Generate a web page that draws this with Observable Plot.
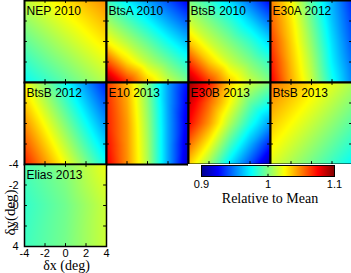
<!DOCTYPE html>
<html><head><meta charset="utf-8">
<script src="https://cdn.jsdelivr.net/npm/d3@7"></script>
<script src="https://cdn.jsdelivr.net/npm/@observablehq/plot@0.6"></script>
<style>
html,body{margin:0;padding:0;background:#fff;}
#chart{position:relative;width:351px;height:273px;overflow:hidden;background:#fff;}
#chart > div{position:absolute;overflow:visible;}
</style></head><body><div id="chart"></div>
<script>
// values; rows run from y = -4 (top) to y = 4 (bottom),
// columns from x = -4 (left) to x = 4 (right), on a 3x3 or 5x5 grid
const grid3 = [-4, 0, 4];
const grid5 = [-4, -2, 0, 2, 4];
const panelNames = ["NEP 2010","BtsA 2010","BtsB 2010","E30A 2012","BtsB 2012","E10 2013","E30B 2013","BtsB 2013","Elias 2013"];
const nep2010 = [
  [1.013, 1.031, 1.048],
  [0.994, 1.012, 1.030],
  [0.976, 0.993, 1.011]];
const btsA2010 = [
  [0.988, 0.972, 0.956, 0.940, 0.923],
  [1.007, 0.991, 0.975, 0.958, 0.942],
  [1.026, 1.010, 0.994, 0.977, 0.961],
  [1.061, 1.032, 1.012, 0.996, 0.980],
  [1.097, 1.067, 1.037, 1.015, 0.999]];
const btsB2010 = [
  [1.000, 0.985, 0.967, 0.946, 0.925],
  [1.015, 1.000, 0.985, 0.967, 0.946],
  [1.036, 1.015, 1.000, 0.985, 0.967],
  [1.065, 1.036, 1.015, 1.000, 0.985],
  [1.093, 1.065, 1.036, 1.015, 1.000]];
const e30A2012 = [
  [1.050, 1.026, 0.991, 0.960, 0.932],
  [1.057, 1.030, 0.997, 0.964, 0.937],
  [1.064, 1.034, 1.003, 0.969, 0.941],
  [1.071, 1.038, 1.009, 0.973, 0.946],
  [1.078, 1.042, 1.014, 0.979, 0.950]];
const btsB2012 = [
  [1.023, 0.977, 0.930],
  [1.047, 1.000, 0.953],
  [1.070, 1.023, 0.977]];
const e10_2013 = [
  [1.065, 1.039, 1.000, 0.957, 0.925],
  [1.068, 1.042, 1.003, 0.957, 0.921],
  [1.070, 1.045, 1.006, 0.958, 0.918],
  [1.074, 1.046, 1.008, 0.958, 0.914],
  [1.078, 1.047, 1.009, 0.958, 0.910]];
const e30B2013 = [
  [1.095, 1.072, 1.035, 1.015, 1.000],
  [1.085, 1.055, 1.025, 0.995, 0.978],
  [1.075, 1.045, 1.010, 0.980, 0.955],
  [1.055, 1.025, 0.990, 0.960, 0.930],
  [1.035, 1.005, 0.970, 0.940, 0.905]];
const btsB2013 = [
  [1.053, 1.031, 1.009],
  [1.036, 1.014, 0.992],
  [1.019, 0.997, 0.975]];
const elias2013 = [
  [0.990, 1.002, 1.022],
  [0.985, 0.997, 1.015],
  [0.987, 0.998, 1.015]];
const panelValues = [nep2010, btsA2010, btsB2010, e30A2012, btsB2012, e10_2013, e30B2013, btsB2013, elias2013];
const axisTicks = [-4, -2, 0, 2, 4];
const colorDomain = [0.9, 1.1];
const colorTicks = [0.9, 1, 1.1];
const jetColors = ["#00008f","#0000ff","#0080ff","#00ffff","#80ff80","#ffff00","#ff8000","#ff0000","#800000"];
const colorLabel = "Relative to Mean";
const xLabel = "δx (deg)";
const yLabel = "δy(deg)";

const sans = "'Liberation Sans', Arial, Helvetica, sans-serif";
const serif = "'Liberation Serif', 'Times New Roman', serif";
const jet = d3.piecewise(d3.interpolateRgb, jetColors);
const colorOpts = {type: "linear", domain: colorDomain, interpolate: jet, clamp: true};

const chart = document.getElementById("chart");
function place(node, left, top, w, h) {
  const d = document.createElement("div");
  d.style.left = left + "px"; d.style.top = top + "px";
  d.style.width = w + "px"; d.style.height = h + "px";
  d.appendChild(node); chart.appendChild(d);
}

const P = 82;
panelNames.forEach((name, i) => {
  const col = i % 4, row = Math.floor(i / 4);
  const vals = panelValues[i];
  const g = vals.length === 5 ? grid5 : grid3;
  const pts = [];
  g.forEach((y, r) => g.forEach((x, c) => pts.push({x, y, v: vals[r][c]})));
  const isAxis = i === 8;
  const ml = isAxis ? 24 : 0, mb = isAxis ? 27 : 0, mt = isAxis ? 6 : 0, mr = isAxis ? 6 : 0;
  const marks = [
    Plot.raster(pts, {x: "x", y: "y", fill: "v", interpolate: "barycentric", x1: -4, x2: 4, y1: -4, y2: 4}),
    Plot.ruleX(axisTicks, {y1: 4, y2: 3.72, stroke: "black"}),
    Plot.ruleX(axisTicks, {y1: -4, y2: -3.72, stroke: "black"}),
    Plot.ruleY(axisTicks, {x1: -4, x2: -3.72, stroke: "black"}),
    Plot.ruleY(axisTicks, {x1: 4, x2: 3.72, stroke: "black"}),
    Plot.frame({stroke: "black", strokeWidth: isAxis ? 1.5 : 2}),
    Plot.text([name], {frameAnchor: "top-left", dx: 2, dy: 6, fontSize: 12, fontFamily: sans, fill: "black"})
  ];
  if (isAxis) {
    marks.push(Plot.text([xLabel], {frameAnchor: "bottom", lineAnchor: "bottom", dy: 23.5, dx: 1, fontSize: 14, fontFamily: serif, fill: "black"}));
    marks.push(Plot.text([yLabel], {frameAnchor: "middle", textAnchor: "middle", lineAnchor: "middle", rotate: -90, dx: -55, dy: 7, fontSize: 15, fontFamily: serif, fill: "black"}));
  }
  const W = P + ml + mr, H = P + mb + mt;
  const plot = Plot.plot({
    width: W, height: H,
    marginTop: mt, marginRight: mr, marginLeft: ml, marginBottom: mb,
    style: {fontFamily: sans, fontSize: "11px", color: "black", background: isAxis ? "transparent" : "white", overflow: "visible"},
    x: {domain: [-4, 4], axis: isAxis ? "bottom" : null, ticks: axisTicks, tickSize: 0, tickPadding: 3, tickFormat: d => String(d), label: null},
    y: {domain: [4, -4], axis: isAxis ? "left" : null, ticks: axisTicks, tickSize: 0, tickPadding: 6, tickFormat: d => String(d), label: null},
    color: colorOpts,
    marks
  });
  place(plot, 24 + P * col - ml, P * row - mt, W, H);
});

// colorbar
const cbar = Plot.plot({
  width: 163, height: 42,
  marginTop: 1, marginBottom: 30, marginLeft: 13, marginRight: 17,
  style: {fontFamily: sans, fontSize: "11px", color: "black", background: "white"},
  x: {domain: colorDomain, ticks: colorTicks, tickSize: 0, tickPadding: 3.5, tickFormat: d => String(d), label: null},
  y: {domain: [0, 1], axis: null},
  color: colorOpts,
  marks: [
    Plot.raster({fill: (x, y) => x, x1: colorDomain[0], x2: colorDomain[1], y1: 0, y2: 1}),
    Plot.ruleX(colorTicks, {y1: 0, y2: 0.2, stroke: "black"}),
    Plot.ruleX(colorTicks, {y1: 1, y2: 0.8, stroke: "black"}),
    Plot.frame({stroke: "black"}),
    Plot.text([colorLabel], {frameAnchor: "bottom", lineAnchor: "bottom", dx: 2, dy: 26, fontSize: 14, fontFamily: serif, fill: "black"})
  ]
});
place(cbar, 188, 164, 163, 42);
</script></body></html>
